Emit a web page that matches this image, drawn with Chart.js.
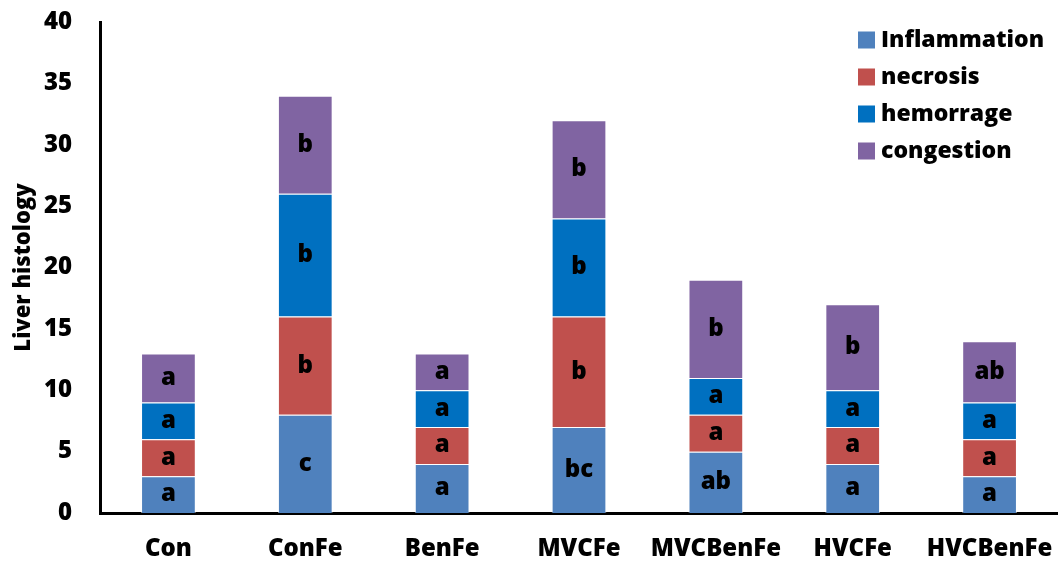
<!DOCTYPE html>
<html>
<head>
<meta charset="utf-8">
<script src="https://cdn.jsdelivr.net/npm/chart.js@4/dist/chart.umd.min.js"></script>
<style>
  html, body { margin: 0; padding: 0; background: #fff; }
  #wrap { width: 1058px; height: 569px; }
</style>
</head>
<body>
<div id="wrap"><canvas id="c" width="1058" height="569"></canvas></div>
<script>
// Groups along the x axis
const groups = ['Con', 'ConFe', 'BenFe', 'MVCFe', 'MVCBenFe', 'HVCFe', 'HVCBenFe'];

// Stacked lesion scores per group
const inflammation = [3, 8, 4, 7, 5, 4, 3];
const necrosis     = [3, 8, 3, 9, 3, 3, 3];
const hemorrage    = [3, 10, 3, 8, 3, 3, 3];
const congestion   = [4, 8, 3, 8, 8, 7, 5];

// Significance letters written inside each segment
const inflammationLetters = ['a', 'c', 'a', 'bc', 'ab', 'a', 'a'];
const necrosisLetters     = ['a', 'b', 'a', 'b', 'a', 'a', 'a'];
const hemorrageLetters    = ['a', 'b', 'a', 'b', 'a', 'a', 'a'];
const congestionLetters   = ['a', 'b', 'a', 'b', 'b', 'b', 'ab'];

// Y axis tick values
const yTicks = [0, 5, 10, 15, 20, 25, 30, 35, 40];

const FONT = '"Open Sans", "DejaVu Sans", sans-serif';
const WEIGHT = 800;

const seriesDefs = [
  { label: 'Inflammation', data: inflammation, letters: inflammationLetters, color: '#4F81BD' },
  { label: 'necrosis',     data: necrosis,     letters: necrosisLetters,     color: '#C0504D' },
  { label: 'hemorrage',    data: hemorrage,    letters: hemorrageLetters,    color: '#0070C0' },
  { label: 'congestion',   data: congestion,   letters: congestionLetters,   color: '#8064A2' }
];

// Letters centred in every stacked segment
const segmentLetters = {
  id: 'segmentLetters',
  afterDatasetsDraw(chart) {
    const ctx = chart.ctx;
    ctx.save();
    ctx.font = WEIGHT + ' 24px ' + FONT;
    ctx.fillStyle = '#000';
    ctx.textAlign = 'center';
    ctx.textBaseline = 'middle';
    chart.data.datasets.forEach((ds, i) => {
      const meta = chart.getDatasetMeta(i);
      meta.data.forEach((bar, j) => {
        const p = bar.getProps(['x', 'y', 'base'], true);
        ctx.fillText(ds.letters[j], p.x, (p.y + p.base) / 2);
      });
    });
    ctx.restore();
  }
};

// Vertical key in the upper right corner
const cornerKey = {
  id: 'cornerKey',
  afterDraw(chart) {
    const ctx = chart.ctx;
    ctx.save();
    ctx.font = WEIGHT + ' 23px ' + FONT;
    ctx.textAlign = 'left';
    ctx.textBaseline = 'middle';
    const x0 = 858, y0 = 40, step = 37, box = 17;
    chart.data.datasets.forEach((ds, i) => {
      const y = y0 + i * step;
      ctx.fillStyle = ds.backgroundColor;
      ctx.fillRect(x0, y - box / 2, box, box);
      ctx.fillStyle = '#000';
      ctx.fillText(ds.label, x0 + 23, y);
    });
    ctx.restore();
  }
};

new Chart(document.getElementById('c'), {
  type: 'bar',
  data: {
    labels: groups,
    datasets: seriesDefs.map(s => ({
      label: s.label,
      data: s.data,
      letters: s.letters,
      backgroundColor: s.color,
      borderColor: 'rgba(255,255,255,0.55)',
      borderWidth: 1,
      barPercentage: 0.4,
      categoryPercentage: 1.0
    }))
  },
  options: {
    responsive: false,
    animation: false,
    devicePixelRatio: 1,
    layout: { padding: 0 },
    plugins: {
      legend: { display: false },
      tooltip: { enabled: false }
    },
    scales: {
      x: {
        stacked: true,
        afterFit(axis) {
          axis.height = 56;
          axis.paddingLeft = 0;
          axis.paddingRight = 0;
        },
        grid: { display: false, drawTicks: false },
        border: { display: true, color: '#000', width: 3 },
        ticks: {
          color: '#000',
          padding: 22,
          font: { family: FONT, size: 24, weight: WEIGHT }
        }
      },
      y: {
        stacked: true,
        min: 0,
        max: 40,
        afterBuildTicks(axis) { axis.ticks = yTicks.map(v => ({ value: v })); },
        afterFit(axis) {
          axis.width = 100;
          axis.paddingTop = 22;
          axis.paddingBottom = 0;
        },
        grid: { display: false, drawTicks: false },
        border: { display: true, color: '#000', width: 3 },
        ticks: {
          color: '#000',
          padding: 28,
          font: { family: FONT, size: 24, weight: WEIGHT }
        },
        title: {
          display: true,
          text: 'Liver histology',
          color: '#000',
          padding: { top: 11, bottom: 0 },
          font: { family: FONT, size: 22, weight: WEIGHT }
        }
      }
    }
  },
  plugins: [segmentLetters, cornerKey]
});
</script>
</body>
</html>
